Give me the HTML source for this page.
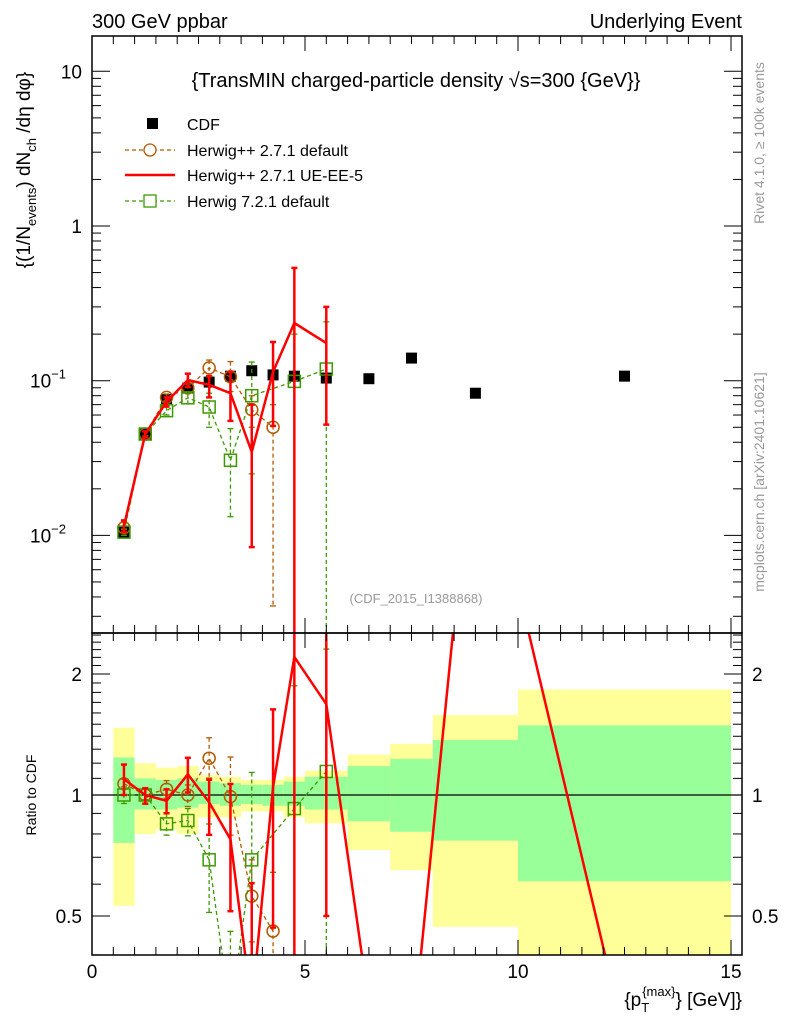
<!DOCTYPE html>
<html><head><meta charset="utf-8"><style>
html,body{margin:0;padding:0;background:#fff;width:786px;height:1024px;overflow:hidden;}
svg{display:block;font-family:"Liberation Sans",Arial,sans-serif;}
</style></head><body>
<svg id="chart" width="786" height="1024" viewBox="0 0 786 1024" xmlns="http://www.w3.org/2000/svg">
<defs>
<clipPath id="clipMain"><rect x="92" y="36" width="650" height="597"/></clipPath>
<clipPath id="clipRatio"><rect x="92" y="633" width="650" height="322"/></clipPath>
</defs>
<g id="bands" clip-path="url(#clipRatio)"></g>
<g id="ratioLines" clip-path="url(#clipRatio)"></g>
<g id="mainLines" clip-path="url(#clipMain)"></g>
<g id="axes"></g>
<text x="92" y="28" font-size="20">300 GeV ppbar</text>
<text x="742" y="28" font-size="20" text-anchor="end">Underlying Event</text>
<text x="416" y="87" font-size="20" text-anchor="middle">{TransMIN charged-particle density √s=300 {GeV}}</text>
<g>
<rect x="147" y="118" width="11" height="11" fill="#000"/>
<text x="187" y="130" font-size="16">CDF</text>
<line x1="125" y1="150" x2="175" y2="150" stroke="#b35900" stroke-width="1.3" stroke-dasharray="4,3"/>
<circle cx="150" cy="150" r="6" fill="#fff" stroke="#b35900" stroke-width="1.3"/>
<text x="187" y="156" font-size="16">Herwig++ 2.7.1 default</text>
<line x1="125" y1="175" x2="175" y2="175" stroke="#f00" stroke-width="2.5"/>
<text x="187" y="181" font-size="16">Herwig++ 2.7.1 UE-EE-5</text>
<line x1="125" y1="201" x2="175" y2="201" stroke="#3c9a00" stroke-width="1.3" stroke-dasharray="4,3"/>
<rect x="144" y="195" width="12" height="12" fill="#fff" stroke="#3c9a00" stroke-width="1.3"/>
<text x="187" y="207" font-size="16">Herwig 7.2.1 default</text>
</g>
<text x="416" y="603" font-size="13" fill="#999" text-anchor="middle">(CDF_2015_I1388868)</text>
<text transform="translate(764,143) rotate(-90)" font-size="14" fill="#999" text-anchor="middle">Rivet 4.1.0, ≥ 100k events</text>
<text transform="translate(764,482) rotate(-90)" font-size="14" fill="#999" text-anchor="middle">mcplots.cern.ch [arXiv:2401.10621]</text>
<text transform="translate(30,170) rotate(-90)" font-size="19" text-anchor="middle">{(1/N<tspan font-size="13" dy="6">events</tspan><tspan dy="-6">) dN</tspan><tspan font-size="13" dy="6">ch</tspan><tspan dy="-6"> /dη  dφ}</tspan></text>
<text transform="translate(36,795) rotate(-90)" font-size="14" text-anchor="middle">Ratio to CDF</text>
<text x="742" y="1006" font-size="19" text-anchor="end">{p<tspan font-size="13" dy="6">T</tspan><tspan font-size="13" dy="-16" dx="-7">{max}</tspan><tspan dy="10">} [GeV]}</tspan></text>
</svg>
<script>
const xCenters = [0.75,1.25,1.75,2.25,2.75,3.25,3.75,4.25,4.75,5.5,6.5,7.5,9,12.5];
const binEdges = [0.5,1,1.5,2,2.5,3,3.5,4,4.5,5,6,7,8,10,15];
const cdfValues = [0.0105,0.0452,0.0755,0.0897,0.098,0.107,0.116,0.109,0.107,0.104,0.103,0.14,0.083,0.107];
const bandYellowUp = [1.47,1.2,1.17,1.18,1.12,1.11,1.09,1.09,1.11,1.15,1.26,1.34,1.58,1.83];
const bandYellowDn = [0.53,0.8,0.82,0.8,0.88,0.88,0.91,0.91,0.88,0.85,0.73,0.65,0.47,0.35];
const bandGreenUp = [1.24,1.1,1.09,1.1,1.08,1.07,1.06,1.06,1.08,1.11,1.18,1.23,1.37,1.49];
const bandGreenDn = [0.76,0.92,0.92,0.93,0.95,0.94,0.95,0.94,0.94,0.92,0.86,0.81,0.77,0.61];
const hppX = [0.75,1.25,1.75,2.25,2.75,3.25,3.75,4.25];
const hppValues = [0.0112,0.0452,0.078,0.0897,0.121,0.106,0.065,0.05];
const hppErrUp = [0.0115,0.047,0.082,0.095,0.136,0.133,0.08,0.07];
const hppErrDn = [0.0109,0.044,0.074,0.084,0.108,0.085,0.05,0.0035];
const ueX = [0.75,1.25,1.75,2.25,2.75,3.25,3.75,4.25,4.75,5.5];
const ueValues = [0.0115,0.0452,0.073,0.101,0.094,0.083,0.0346,0.114,0.236,0.175];
const ueErrUp = [0.0125,0.047,0.078,0.111,0.107,0.114,0.07,0.178,0.536,0.30];
const ueErrDn = [0.0105,0.043,0.068,0.091,0.078,0.055,0.0084,0.051,0.0001,0.052];
const ueRatioExtraX = [6.5,7.5,9,12.5];
const ueRatioExtraLog2 = [-1.73,-2.1,3.2,-2.0];
const h7X = [0.75,1.25,1.75,2.25,2.75,3.25,3.75,4.75,5.5];
const h7Values = [0.0105,0.0452,0.064,0.0775,0.0676,0.0306,0.08,0.099,0.119];
const h7ErrUp = [0.011,0.047,0.068,0.083,0.083,0.049,0.132,0.2,0.24];
const h7ErrDn = [0.010,0.043,0.060,0.071,0.05,0.0132,0.025,0.0001,0.0001];
const mainTickVals=[10,1,0.1,0.01];
const mainTickLabels=['10','1','10','10'];
const mainTickExp=['','','−1','−2'];
const ratioTickVals=[2,1,0.5];
const ratioTickLabels=['2','1','0.5'];

const NS="http://www.w3.org/2000/svg";
const X=v=>92+v*42.6;
const Y=v=>226-154.7*Math.log10(v);
const R=r=>795-121*Math.log2(r);
function mk(tag,attrs,parent){const e=document.createElementNS(NS,tag);for(const k in attrs)e.setAttribute(k,attrs[k]);parent.appendChild(e);return e;}
const bands=document.getElementById('bands'),ml=document.getElementById('mainLines'),rl=document.getElementById('ratioLines'),ax=document.getElementById('axes');

for(let i=0;i<cdfValues.length;i++){
 const x0=X(binEdges[i]),x1=X(binEdges[i+1]);
 const y=mk('rect',{x:x0,y:R(bandYellowUp[i]),width:x1-x0,height:R(bandYellowDn[i])-R(bandYellowUp[i]),fill:'#ffff99'},bands);
 
 
 const g=mk('rect',{x:x0,y:R(bandGreenUp[i]),width:x1-x0,height:R(bandGreenDn[i])-R(bandGreenUp[i]),fill:'#99ff99'},bands);
 
 
}
const one=mk('line',{x1:92,x2:742,y1:R(1),y2:R(1),stroke:'#000','stroke-width':1.2},bands);



function cdfAt(x){return cdfValues[xCenters.indexOf(x)];}
function series(xs,vals,up,dn,color,width,dash,marker,name){
 const gm=mk('g',{},ml);
 
 
 const gr=mk('g',{},rl);
 
 
 const sty={stroke:color,'stroke-width':width,fill:'none'};if(dash)sty['stroke-dasharray']=dash;
 const p1=mk('polyline',Object.assign({points:xs.map((x,i)=>X(x)+','+Y(vals[i])).join(' ')},sty),gm);
 
 
 const rpts=xs.map((x,i)=>X(x)+','+R(vals[i]/cdfAt(x)));
 if(name==='ueee5'){ueRatioExtraX.forEach((x,i)=>rpts.push(X(x)+','+(795-121*ueRatioExtraLog2[i])));}
 const p2=mk('polyline',Object.assign({points:rpts.join(' ')},sty),gr);
 
 
 xs.forEach((x,i)=>{
  const c=cdfAt(x);
  [[gm,Y(up[i]),Y(dn[i]),Y(vals[i])],[gr,R(up[i]/c),R(dn[i]/c),R(vals[i]/c)]].forEach(([g,yu,yd,yc])=>{
   const ew=width>2?2.5:1.3;
   const e=mk('line',Object.assign({x1:X(x),x2:X(x),y1:yu,y2:yd},sty,{'stroke-width':ew}),g);
   
   
   mk('line',{x1:X(x)-3,x2:X(x)+3,y1:yu,y2:yu,stroke:color,'stroke-width':ew},g);
   mk('line',{x1:X(x)-3,x2:X(x)+3,y1:yd,y2:yd,stroke:color,'stroke-width':ew},g);
   if(marker==='circle'){const m=mk('circle',{cx:X(x),cy:yc,r:6,fill:'none',stroke:color,'stroke-width':1.5},g);
    
    }
   if(marker==='square'){const m=mk('rect',{x:X(x)-6,y:yc-6,width:12,height:12,fill:'none',stroke:color,'stroke-width':1.5},g);
    
    }
  });
 });
}
xCenters.forEach((x,i)=>{
 const m=mk('rect',{x:X(x)-5.5,y:Y(cdfValues[i])-5.5,width:11,height:11,fill:'#000'},ml);
 
 
});
series(hppX,hppValues,hppErrUp,hppErrDn,'#b35900',1.3,'4,3','circle','herwigpp-default');
series(h7X,h7Values,h7ErrUp,h7ErrDn,'#3c9a00',1.3,'4,3','square','herwig7-default');
series(ueX,ueValues,ueErrUp,ueErrDn,'#f00',2.5,null,null,'ueee5');

[[36,633],[633,955]].forEach(([t,b])=>{const f=mk('rect',{x:92,y:t,width:650,height:b-t,fill:'none',stroke:'#000','stroke-width':1.5},ax);
 
 });
for(let k=0;k<=30;k++){
 const v=k*0.5;
 const major=(k%10===0);const L=major?15:8;
 [[633,-1],[955,-1],[36,1],[633,1]].forEach(([y,d])=>mk('line',{x1:X(v),x2:X(v),y1:y,y2:y+d*L,stroke:'#000','stroke-width':1},ax));
 if(major){const t=mk('text',{x:X(v),y:978,'font-size':19,'text-anchor':'middle'},ax);t.textContent=String(v);
  
  }
}
for(let e=-3;e<=1;e++){for(let m=1;m<=9;m++){const v=m*Math.pow(10,e);const y=Y(v);if(y<36||y>633)continue;const L=m===1?18:9;
 mk('line',{x1:92,x2:92+L,y1:y,y2:y,stroke:'#000'},ax);mk('line',{x1:742,x2:742-L,y1:y,y2:y,stroke:'#000'},ax);}}
mainTickVals.forEach((v,i)=>{const t=mk('text',{x:mainTickExp[i]?66:82,y:Y(v)+7,'font-size':19,'text-anchor':'end'},ax);t.textContent=mainTickLabels[i];
 if(mainTickExp[i]){const s=mk('tspan',{'font-size':13,dy:-9},t);s.textContent=mainTickExp[i];}
 
 });
for(let k=4;k<=25;k++){const r=k/10;const y=R(r);if(y<633||y>955)continue;const major=(k===5||k===10||k===20);const L=major?18:9;
 mk('line',{x1:92,x2:92+L,y1:y,y2:y,stroke:'#000'},ax);mk('line',{x1:742,x2:742-L,y1:y,y2:y,stroke:'#000'},ax);}
ratioTickVals.forEach((v,i)=>{[[82,'end'],[752,'start']].forEach(([x,a])=>{const t=mk('text',{x:x,y:R(v)+7,'font-size':19,'text-anchor':a},ax);t.textContent=ratioTickLabels[i];
 
 });});
</script>
</body></html>
